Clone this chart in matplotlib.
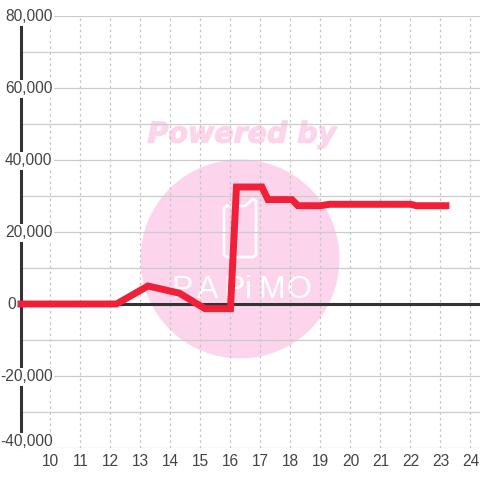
import matplotlib
matplotlib.use('Agg')
import matplotlib.pyplot as plt
import matplotlib.patheffects as pe
from matplotlib.patches import Circle

plt.rcParams['font.family'] = ['Liberation Sans', 'DejaVu Sans']

hours = [8.9, 12.2, 13.25, 14.3, 15.15, 16.0, 16.2, 17.05, 17.25, 18.05, 18.25, 19.0, 19.3, 22.0, 22.2, 23.3]
values = [0, 0, 5000, 3000, -1300, -1300, 32500, 32500, 29000, 29000, 27300, 27300, 27700, 27700, 27300, 27300]

x_ticks = list(range(10, 25))
y_major = [80000, 60000, 40000, 20000, 0, -20000, -40000]
y_minor = [70000, 50000, 30000, 10000, -10000, -30000]

INK = '#333333'
GRID = '#cccccc'
RED = '#f02038'
PINK = '#fcd5ec'
LABEL = '#444444'

fig = plt.figure(figsize=(4.8, 4.8), dpi=100)

# watermark sits behind the plot, drawn in pixel coordinates
bg = fig.add_axes([0, 0, 1, 1], zorder=0)
bg.set_xlim(0, 480)
bg.set_ylim(480, 0)
bg.axis('off')
bg.add_patch(Circle((240, 259), 99.5, color=PINK, lw=0))
bg.text(242, 134.5, 'Powered by', color=PINK, fontsize=20.5, fontweight='bold', fontstyle='italic',
        family=['DejaVu Sans'], ha='center', va='center',
        path_effects=[pe.withStroke(linewidth=0.9, foreground=PINK)])
# phone outline of the logo
bg.plot([227, 245, 253, 256, 256, 253, 227, 224, 224, 227],
        [206, 206, 199, 201, 255, 257, 257, 255, 208, 206],
        color='white', lw=1.9, solid_joinstyle='round')
for cx, ch in zip([182, 208, 234, 248, 272, 299], 'PAPiMO'):
    bg.text(cx, 290, ch, color='white', fontsize=23, family=['Liberation Sans'], ha='center', va='center')

ax = fig.add_axes([20.5 / 480, 32 / 480, 459.5 / 480, 432 / 480], zorder=1)
ax.patch.set_alpha(0)
ax.set_xlim(9, 24.32)
ax.set_ylim(-40000, 80000)

for s in ['top', 'right', 'bottom']:
    ax.spines[s].set_visible(False)
ax.spines['left'].set_color(INK)
ax.spines['left'].set_linewidth(2.2)
ax.spines['left'].set_bounds(-40000, 78000)

ax.set_xticks(x_ticks)
ax.set_yticks(y_major + y_minor)
ax.set_yticklabels([])
ax.tick_params(axis='both', length=0, pad=4)
ax.tick_params(axis='x', labelsize=11.2, labelcolor=LABEL)
ax.grid(axis='y', color=GRID, lw=0.9, zorder=1)
ax.grid(axis='x', color='#c4c4c4', lw=0.9, linestyle=(0, (2, 2.5)), zorder=1)
ax.set_axisbelow(True)

ax.axhline(0, color=INK, lw=2.2, zorder=2)
ax.plot(hours, values, color=RED, lw=5, solid_joinstyle='miter', solid_capstyle='butt', zorder=5, clip_on=False)

for v in y_major:
    if v == 0:
        ax.annotate('0', (9, 0), xytext=(-3, -0.7), textcoords='offset points', ha='right', va='center',
                    fontsize=11.2, color=LABEL, annotation_clip=False, zorder=4)
        continue
    dy = 4.5 if v == -40000 else -0.7
    ax.annotate(f'{v:,}', (9, v), xytext=(23, dy), textcoords='offset points', ha='right', va='center',
                fontsize=11.2, color=LABEL, annotation_clip=False, zorder=4,
                bbox=dict(fc='white', ec='none', pad=0.8))

fig.savefig('out.png', dpi=100, facecolor='white')
